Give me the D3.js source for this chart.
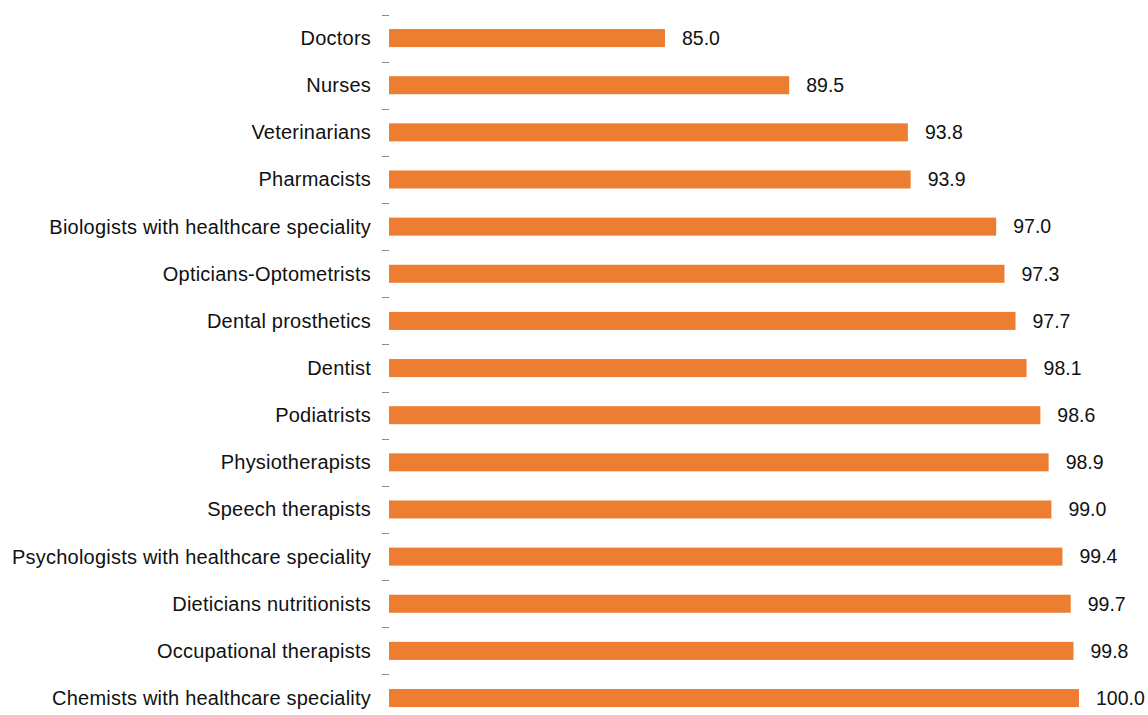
<!DOCTYPE html>
<html>
<head>
<meta charset="utf-8">
<script src="https://cdn.jsdelivr.net/npm/d3@7"></script>
<style>
  html, body { margin: 0; padding: 0; background: #fff; }
  svg { display: block; }
  text { font-family: "Liberation Sans", Arial, sans-serif; fill: #111; }
</style>
</head>
<body>
<svg id="chart" width="1148" height="715"></svg>
<script>
// Professions, in display order (top to bottom)
const professions = [
  "Doctors",
  "Nurses",
  "Veterinarians",
  "Pharmacists",
  "Biologists with healthcare speciality",
  "Opticians-Optometrists",
  "Dental prosthetics",
  "Dentist",
  "Podiatrists",
  "Physiotherapists",
  "Speech therapists",
  "Psychologists with healthcare speciality",
  "Dieticians nutritionists",
  "Occupational therapists",
  "Chemists with healthcare speciality"
];

// Share value per profession
const shares = [85.0, 89.5, 93.8, 93.9, 97.0, 97.3, 97.7, 98.1, 98.6, 98.9, 99.0, 99.4, 99.7, 99.8, 100.0];

// Value axis extent
const valueDomain = [75, 100];

const svg = d3.select("#chart");
const margin = { left: 389, right: 69, top: 14.5 };
const step = 47.14;
const plotBottom = margin.top + step * professions.length;

const x = d3.scaleLinear()
  .domain(valueDomain)
  .range([margin.left, 1148 - margin.right]);

const y = d3.scaleBand()
  .domain(professions)
  .range([margin.top, plotBottom])
  .paddingInner(0.618)
  .paddingOuter(0.309);

const data = professions.map((p, i) => ({ name: p, value: shares[i] }));

// Small boundary ticks between categories (no axis line)
const boundaries = d3.range(professions.length + 1).map(i => margin.top + i * step);
svg.append("g")
  .selectAll("line")
  .data(boundaries)
  .join("line")
  .attr("x1", margin.left - 7)
  .attr("x2", margin.left)
  .attr("y1", d => Math.round(d) + 0.5)
  .attr("y2", d => Math.round(d) + 0.5)
  .attr("stroke", "#8c8c8c")
  .attr("stroke-width", 1);

// Bars
svg.append("g")
  .selectAll("rect")
  .data(data)
  .join("rect")
  .attr("x", x(valueDomain[0]))
  .attr("y", d => y(d.name))
  .attr("width", d => x(d.value) - x(valueDomain[0]))
  .attr("height", y.bandwidth())
  .attr("fill", "#ED7D31");

// Category labels
svg.append("g")
  .selectAll("text")
  .data(data)
  .join("text")
  .attr("x", margin.left - 18)
  .attr("y", d => y(d.name) + y.bandwidth() / 2)
  .attr("dy", "0.35em")
  .attr("text-anchor", "end")
  .attr("font-size", 20)
  .attr("letter-spacing", "0.22px")
  .text(d => d.name);

// Value labels
svg.append("g")
  .selectAll("text")
  .data(data)
  .join("text")
  .attr("x", d => x(d.value) + 17)
  .attr("y", d => y(d.name) + y.bandwidth() / 2)
  .attr("dy", "0.35em")
  .attr("font-size", 19.5)
  .text(d => d.value.toFixed(1));
</script>
</body>
</html>
